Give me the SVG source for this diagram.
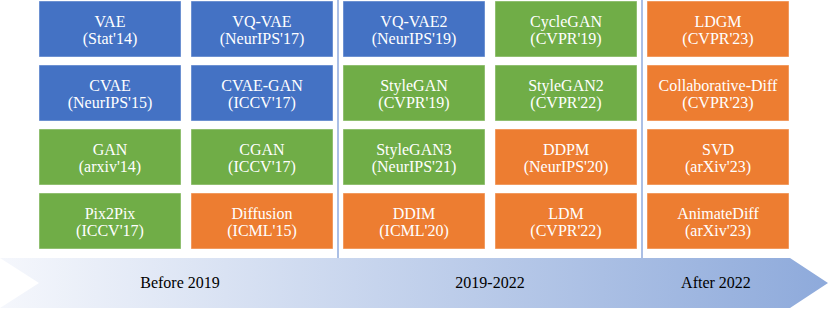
<svg xmlns="http://www.w3.org/2000/svg" width="830" height="309" viewBox="0 0 830 309">
<defs>
<linearGradient id="tl" x1="0" y1="0" x2="1" y2="0">
<stop offset="0" stop-color="#f5f7fc"/>
<stop offset="1" stop-color="#8eaadb"/>
</linearGradient>
<style>
.b{stroke:#ffffff;stroke-opacity:0.45;stroke-width:1}
.blue{fill:#4472c4}
.green{fill:#70ad47}
.orange{fill:#ed7d31}
.t{font-size:16px;fill:#ffffff;text-anchor:middle}
.lab{font-size:16px;fill:#000000;text-anchor:middle}
.sep{stroke:#8faadc;stroke-width:1.5}
</style>
</defs>
<rect width="830" height="309" fill="#ffffff"/>
<g font-family="'Liberation Serif', 'Times New Roman', Tinos, 'DejaVu Serif', serif">
<g id="timeline">
<polygon points="0,258 790,258 828,283 790,308 0,308 39,283" fill="url(#tl)"/>
<text class="lab" x="180" y="288">Before 2019</text>
<text class="lab" x="490" y="288">2019-2022</text>
<text class="lab" x="716" y="288">After 2022</text>
</g>
<g id="connectors">
<line class="sep" x1="338" y1="0" x2="338" y2="258"/>
<line class="sep" x1="642" y1="0" x2="642" y2="258"/>
</g>
<g id="vae"><rect class="b blue" x="39" y="1" width="142" height="56"/><text class="t" x="110" y="27">VAE</text><text class="t" x="110" y="44">(Stat'14)</text></g>
<g id="vqvae"><rect class="b blue" x="191" y="1" width="142" height="56"/><text class="t" x="262" y="27">VQ-VAE</text><text class="t" x="262" y="44">(NeurIPS'17)</text></g>
<g id="vqvae2"><rect class="b blue" x="343" y="1" width="142" height="56"/><text class="t" x="414" y="27">VQ-VAE2</text><text class="t" x="414" y="44">(NeurIPS'19)</text></g>
<g id="cyclegan"><rect class="b green" x="495" y="1" width="142" height="56"/><text class="t" x="566" y="27">CycleGAN</text><text class="t" x="566" y="44">(CVPR'19)</text></g>
<g id="ldgm"><rect class="b orange" x="647" y="1" width="142" height="56"/><text class="t" x="718" y="27">LDGM</text><text class="t" x="718" y="44">(CVPR'23)</text></g>

<g id="cvae"><rect class="b blue" x="39" y="65" width="142" height="56"/><text class="t" x="110" y="91">CVAE</text><text class="t" x="110" y="108">(NeurIPS'15)</text></g>
<g id="cvaegan"><rect class="b blue" x="191" y="65" width="142" height="56"/><text class="t" x="262" y="91">CVAE-GAN</text><text class="t" x="262" y="108">(ICCV'17)</text></g>
<g id="stylegan"><rect class="b green" x="343" y="65" width="142" height="56"/><text class="t" x="414" y="91">StyleGAN</text><text class="t" x="414" y="108">(CVPR'19)</text></g>
<g id="stylegan2"><rect class="b green" x="495" y="65" width="142" height="56"/><text class="t" x="566" y="91">StyleGAN2</text><text class="t" x="566" y="108">(CVPR'22)</text></g>
<g id="collabdiff"><rect class="b orange" x="647" y="65" width="142" height="56"/><text class="t" x="718" y="91">Collaborative-Diff</text><text class="t" x="718" y="108">(CVPR'23)</text></g>

<g id="gan"><rect class="b green" x="39" y="129" width="142" height="56"/><text class="t" x="110" y="155">GAN</text><text class="t" x="110" y="172">(arxiv'14)</text></g>
<g id="cgan"><rect class="b green" x="191" y="129" width="142" height="56"/><text class="t" x="262" y="155">CGAN</text><text class="t" x="262" y="172">(ICCV'17)</text></g>
<g id="stylegan3"><rect class="b green" x="343" y="129" width="142" height="56"/><text class="t" x="414" y="155">StyleGAN3</text><text class="t" x="414" y="172">(NeurIPS'21)</text></g>
<g id="ddpm"><rect class="b orange" x="495" y="129" width="142" height="56"/><text class="t" x="566" y="155">DDPM</text><text class="t" x="566" y="172">(NeurIPS'20)</text></g>
<g id="svd"><rect class="b orange" x="647" y="129" width="142" height="56"/><text class="t" x="718" y="155">SVD</text><text class="t" x="718" y="172">(arXiv'23)</text></g>

<g id="pix2pix"><rect class="b green" x="39" y="193" width="142" height="56"/><text class="t" x="110" y="219">Pix2Pix</text><text class="t" x="110" y="236">(ICCV'17)</text></g>
<g id="diffusion"><rect class="b orange" x="191" y="193" width="142" height="56"/><text class="t" x="262" y="219">Diffusion</text><text class="t" x="262" y="236">(ICML'15)</text></g>
<g id="ddim"><rect class="b orange" x="343" y="193" width="142" height="56"/><text class="t" x="414" y="219">DDIM</text><text class="t" x="414" y="236">(ICML'20)</text></g>
<g id="ldm"><rect class="b orange" x="495" y="193" width="142" height="56"/><text class="t" x="566" y="219">LDM</text><text class="t" x="566" y="236">(CVPR'22)</text></g>
<g id="animatediff"><rect class="b orange" x="647" y="193" width="142" height="56"/><text class="t" x="718" y="219">AnimateDiff</text><text class="t" x="718" y="236">(arXiv'23)</text></g>
</g>
</svg>
